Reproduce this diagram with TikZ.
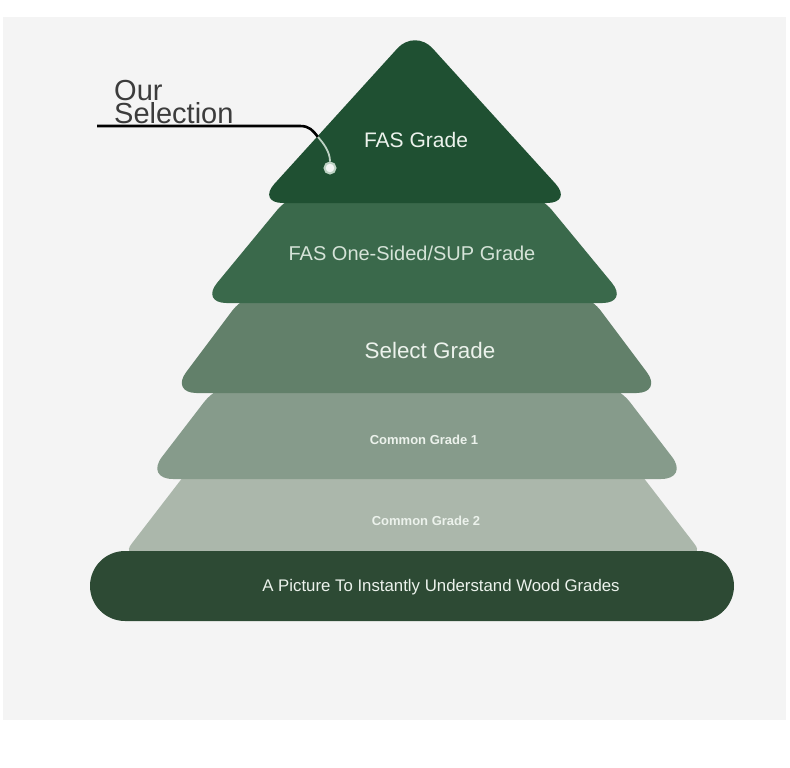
\documentclass[tikz,border=0pt]{standalone}
\usepackage{fontspec}
\setmainfont{Liberation Sans}
\usepackage{xcolor}
\usepackage{tikz}
\definecolor{wgpaper}{RGB}{244,244,244}
\definecolor{wgtierA}{RGB}{31,80,50}
\definecolor{wgtierB}{RGB}{58,105,75}
\definecolor{wgtierC}{RGB}{98,128,106}
\definecolor{wgtierD}{RGB}{134,155,139}
\definecolor{wgtierE}{RGB}{171,183,171}
\definecolor{wgbase}{RGB}{45,74,52}
\definecolor{wgtext}{RGB}{236,242,236}
\definecolor{wgsup}{RGB}{213,227,216}
\definecolor{wgink}{RGB}{60,60,60}
\definecolor{wglead}{RGB}{190,210,196}

\begin{document}
\begin{tikzpicture}[x=1pt,y=-1pt,
  lbl/.style={anchor=base, inner sep=0pt, text=wgtext},
  side/.style={anchor=north west, inner sep=0pt, align=left, text=wgink, font=\fontsize{29}{23}\selectfont},
  leader/.style={line width=2.6pt, black},
  leaderlight/.style={line width=1.8pt, wglead},
  seldot/.style={circle, inner sep=0pt, minimum size=11pt, fill=white!94!wgtierA, draw=wglead, line width=2pt}]
\useasboundingbox (0,0) rectangle (790,768);
\fill[white] (0,0) rectangle (790,768);
\fill[wgpaper] (3,17) rectangle (786,720);

% tiers, bottom one first
\fill[wgtierE, rounded corners=15pt] (191.5,466) -- (122.2,556) -- (703.8,556) -- (634.5,466) -- cycle;
\fill[wgtierD, rounded corners=28pt] (221,380) -- (145,479) -- (689,479) -- (613,380) -- cycle;
\fill[wgtierC, rounded corners=26pt] (247.8,290) -- (170.5,393) -- (662.5,393) -- (585.2,290) -- cycle;
\fill[wgtierB, rounded corners=26pt] (293.7,190) -- (200.5,303) -- (628.5,303) -- (535.3,190) -- cycle;
\fill[wgtierA, rounded corners=26pt] (415,29) -- (257,203) -- (573,203) -- cycle;
\fill[wgbase, rounded corners=35pt] (90,551) rectangle (734,621);

\node[lbl, font=\fontsize{21}{21}\selectfont] (fasTxt) at (416,147) {FAS Grade};
\node[lbl, text=wgsup, font=\fontsize{20}{20}\selectfont] (supTxt) at (412,260) {FAS One-Sided/SUP Grade};
\node[lbl, font=\fontsize{22.4}{22}\selectfont] (selTxt) at (430,358) {Select Grade};
\node[lbl, font=\fontsize{13}{13}\selectfont\bfseries] (comOneTxt) at (424,444) {Common Grade 1};
\node[lbl, font=\fontsize{13}{13}\selectfont\bfseries] (comTwoTxt) at (426,525) {Common Grade 2};
\node[lbl, font=\fontsize{16.8}{17}\selectfont] (baseTxt) at (441,591) {A Picture To Instantly Understand Wood Grades};

% our selection
\node[side] (ourTxt) at (114,80) {Our\\Selection};
\coordinate (lineStart) at (97,126);
\coordinate (lineBend) at (300,126);
\coordinate (edgePt) at (318,137);
\node[seldot] (selDot) at (330,168) {};
\draw[leader] (lineStart) -- (lineBend) .. controls (310,126) and (313,131) .. (edgePt);
\draw[leaderlight] (edgePt) .. controls (324,144) and (330,152) .. (selDot.north);
\end{tikzpicture}
\end{document}
